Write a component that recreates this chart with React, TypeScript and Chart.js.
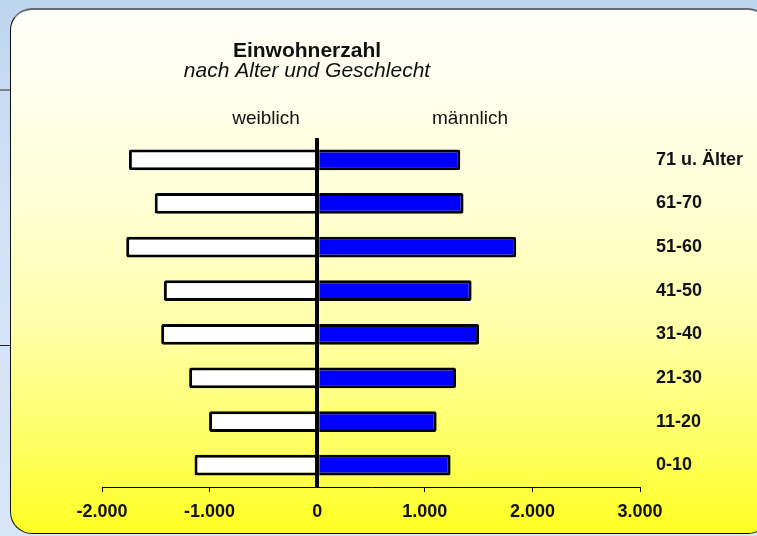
import React, { useEffect, useRef } from "react";
import { Chart, registerables } from "chart.js";

Chart.register(...registerables);

const categories = ["71 u. Älter", "61-70", "51-60", "41-50", "31-40", "21-30", "11-20", "0-10"];
const weiblich = [-1750, -1510, -1775, -1425, -1450, -1190, -1005, -1140];
const maennlich = [1330, 1360, 1850, 1435, 1505, 1290, 1110, 1240];
const xMin = -2000;
const xMax = 3000;
const xStep = 1000;
const titleText = "Einwohnerzahl";
const subtitleText = "nach Alter und Geschlecht";
const leftLabel = "weiblich";
const rightLabel = "männlich";

const FONT = "'Liberation Sans', Arial, sans-serif";

function fmt(v: number): string {
  const s = Math.abs(v).toString().replace(/\B(?=(\d{3})+(?!\d))/g, ".");
  return (v < 0 ? "-" : "") + s;
}

const textPlugin = {
  id: "headerTexts",
  afterDraw(chart: any) {
    const ctx = chart.ctx;
    ctx.save();
    ctx.fillStyle = "#111";
    ctx.textAlign = "center";
    ctx.textBaseline = "alphabetic";
    ctx.font = `bold 21px ${FONT}`;
    ctx.fillText(titleText, 307, 57);
    ctx.font = `italic 21px ${FONT}`;
    ctx.fillText(subtitleText, 307, 77);
    ctx.font = `19px ${FONT}`;
    ctx.fillText(leftLabel, 266, 124);
    ctx.fillText(rightLabel, 470, 124);
    ctx.restore();
  },
};

export default function App() {
  const ref = useRef<HTMLCanvasElement | null>(null);
  useEffect(() => {
    if (!ref.current) return;
    const chart = new Chart(ref.current, {
      type: "bar",
      data: {
        labels: categories,
        datasets: [
          {
            label: leftLabel,
            data: weiblich,
            backgroundColor: "#ffffff",
            borderColor: "#000000",
            borderWidth: 3,
            borderSkipped: "start",
            borderRadius: 2,
          },
          {
            label: rightLabel,
            data: maennlich,
            backgroundColor: "#0000ff",
            borderColor: "#000000",
            borderWidth: 3,
            borderSkipped: "start",
            borderRadius: 2,
          },
        ],
      },
      options: {
        indexAxis: "y",
        responsive: false,
        animation: false,
        devicePixelRatio: 1,
        layout: { padding: { left: 102, top: 138, right: 0, bottom: 0 } },
        datasets: { bar: { categoryPercentage: 1, barPercentage: 0.475 } },
        plugins: { legend: { display: false }, tooltip: { enabled: false }, title: { display: false } },
        scales: {
          x: {
            type: "linear",
            stacked: true,
            min: xMin,
            max: xMax,
            z: 1,
            ticks: {
              stepSize: xStep,
              padding: 9,
              color: "#111",
              font: { family: FONT, size: 18, weight: "bold" },
              callback: (v: any) => fmt(Number(v)),
              maxRotation: 0,
            },
            grid: {
              drawOnChartArea: true,
              color: (c: any) => (c.tick && c.tick.value === 0 ? "#000" : "rgba(0,0,0,0)"),
              lineWidth: (c: any) => (c.tick && c.tick.value === 0 ? 4 : 1),
              tickColor: (c: any) => (c.tick && c.tick.value === 0 ? "rgba(0,0,0,0)" : "#000"),
              tickWidth: 1,
              tickLength: 5,
            },
            border: { display: true, color: "#000", width: 1 },
            afterFit: (s: any) => {
              s.height = 49;
            },
          },
          y: {
            type: "category",
            position: "right",
            stacked: true,
            ticks: {
              padding: 16,
              color: "#111",
              font: { family: FONT, size: 18, weight: "bold" },
            },
            grid: { display: false, drawTicks: false },
            border: { display: false },
            afterFit: (s: any) => {
              s.width = 117;
            },
          },
        },
      },
      plugins: [textPlugin],
    } as any);
    return () => chart.destroy();
  }, []);

  return (
    <div style={{ position: "absolute", left: 0, top: 0, width: 757, height: 536, overflow: "hidden", background: "linear-gradient(#bed5f0, #d3e2f6 40%, #d6e5f8)" }}>
      <div style={{ position: "absolute", left: 0, top: 89, width: 11, height: 0, borderTop: "2px solid #7a7f88" }} />
      <div style={{ position: "absolute", left: 0, top: 345, width: 11, height: 0, borderTop: "1px solid #222" }} />
      <div
        style={{
          position: "absolute",
          left: 10,
          top: 8,
          width: 760,
          height: 526,
          boxSizing: "border-box",
          borderRadius: 22,
          borderTop: "2px solid #666a70",
          borderLeft: "1px solid #111",
          borderBottom: "1px solid #111",
          borderRight: "1px solid #111",
          background: "linear-gradient(#fffffa 0%, #fffff0 12%, #ffffd8 35%, #ffffaa 60%, #ffff66 82%, #ffff22 100%)",
        }}
      />
      <canvas ref={ref} width={757} height={536} style={{ position: "absolute", left: 0, top: 0, width: 757, height: 536 }} />
    </div>
  );
}
